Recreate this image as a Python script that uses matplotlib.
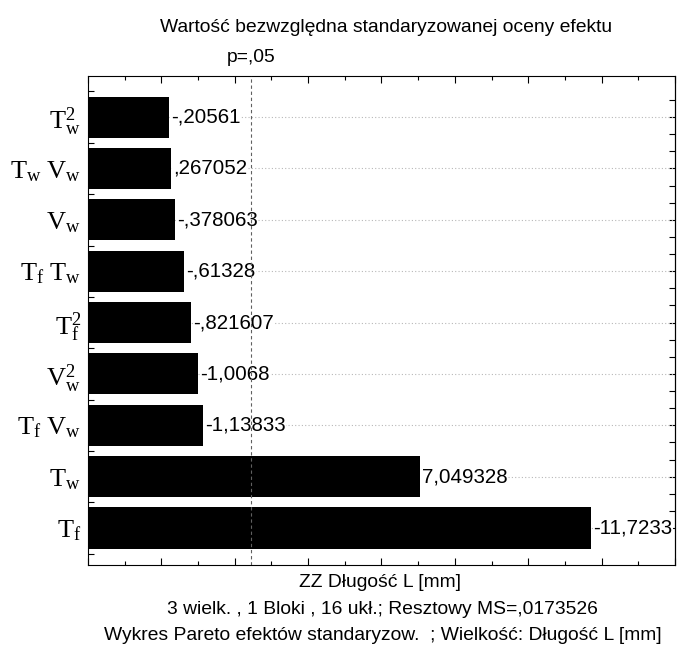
import numpy as np
import matplotlib
matplotlib.use("Agg")
import matplotlib.pyplot as plt
from matplotlib.transforms import blended_transform_factory

# standardized effects (Pareto order, largest first)
effect_names = [r"$\mathrm{T_f}$", r"$\mathrm{T_w}$", r"$\mathrm{T_f\ V_w}$",
                r"$\mathrm{V_w^2}$", r"$\mathrm{T_f^2}$", r"$\mathrm{T_f\ T_w}$",
                r"$\mathrm{V_w}$", r"$\mathrm{T_w\ V_w}$", r"$\mathrm{T_w^2}$"]
effects = [-11.7233, 7.049328, -1.13833, -1.0068, -0.821607, -0.61328,
           -0.378063, 0.267052, -0.20561]
t_crit = 2.4469  # p=,05
x_range = (-2, 14)

title_lines = ["Wykres Pareto efektów standaryzow.  ; Wielkość: Długość L [mm]",
               "3 wielk. , 1 Bloki , 16 ukł.; Resztowy MS=,0173526",
               "ZZ Długość L [mm]"]
x_title = "Wartość bezwzględna standaryzowanej oceny efektu"


def pl_fmt(v):
    s = repr(v).replace("0.", ".", 1) if abs(v) < 1 else repr(v)
    return s.replace(".", ",")


plt.rcParams["font.family"] = ["Liberation Sans", "DejaVu Sans"]
plt.rcParams["mathtext.fontset"] = "custom"
plt.rcParams["mathtext.rm"] = "Liberation Serif"
plt.rcParams["mathtext.it"] = "Liberation Serif:italic"

fig = plt.figure(figsize=(6.9, 6.56), dpi=100)
ax = fig.add_axes([0.1275, 0.1387, 0.8507, 0.7454])

ypos = np.arange(len(effects))
absv = np.abs(effects)

# dotted grid at every bar
for y in ypos:
    ax.axhline(y, color="#b8b8b8", lw=0.8, ls=(0, (1, 2)), zorder=1)

ax.barh(ypos, absv - x_range[0], left=x_range[0], height=0.8,
        color="black", zorder=2)

for y, v, a in zip(ypos, effects, absv):
    ax.text(a + 0.05, y, pl_fmt(v), va="center", ha="left", fontsize=14.8,
            zorder=3, bbox=dict(facecolor="white", edgecolor="none", pad=0.5))

ax.axvline(t_crit, color="#606060", lw=0.8, ls=(0, (3, 2.5)), zorder=4)

ax.set_xlim(*x_range)
ax.set_ylim(-0.72, 8.8)

ax.set_xticks(np.arange(x_range[0], x_range[1] + 1, 2))
ax.set_xticks(np.arange(x_range[0] + 1, x_range[1], 2), minor=True)
ax.tick_params(axis="x", which="both", direction="in", top=True, bottom=True,
               labelbottom=False, labeltop=False, width=0.8)
ax.tick_params(axis="x", which="major", length=5)
ax.tick_params(axis="x", which="minor", length=3)

ax.set_yticks(ypos)
ax.set_yticklabels(effect_names, fontsize=19)
ax.set_yticks(np.arange(-0.5, len(effects), 1), minor=True)
ax.tick_params(axis="y", which="major", length=0, pad=5)
ax.tick_params(axis="y", which="minor", direction="in", length=4, width=0.8,
               left=True, right=False)

sec = ax.secondary_yaxis("right")
sec.set_yticks(np.arange(0, len(effects) - 0.5, 1 / 3))
sec.tick_params(direction="in", length=4, width=0.8, labelright=False)
sec.spines["right"].set_linewidth(0.8)

for sp in ax.spines.values():
    sp.set_linewidth(0.8)

fig.text(0.560, 0.9588, x_title, ha="center", va="center", fontsize=13.9)
trans = blended_transform_factory(ax.transData, fig.transFigure)
fig.text(t_crit, 0.9116, "p=,05", transform=trans, ha="center", va="center",
         fontsize=13.9)
fig.text(0.551, 0.1128, title_lines[2], ha="center", va="center", fontsize=13.9)
fig.text(0.554, 0.0716, title_lines[1], ha="center", va="center", fontsize=13.9)
fig.text(0.555, 0.0305, title_lines[0], ha="center", va="center", fontsize=13.9)

fig.savefig("out.png", dpi=100)
